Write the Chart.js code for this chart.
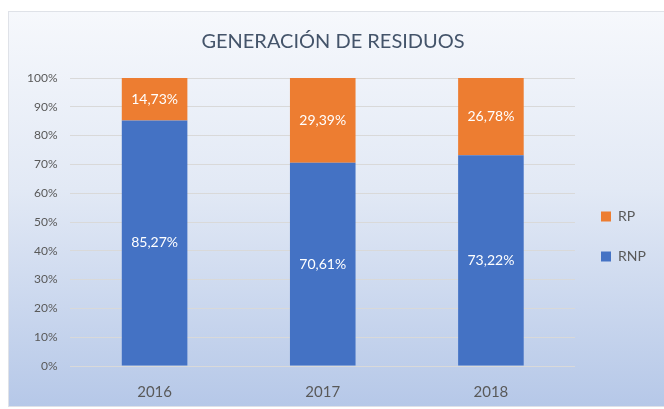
<!DOCTYPE html>
<html>
<head>
<meta charset="utf-8">
<script src="https://cdn.jsdelivr.net/npm/chart.js@4/dist/chart.umd.min.js"></script>
<style>
  html, body { margin: 0; padding: 0; background: #fff; }
  #wrap { width: 664px; height: 409px; position: relative; }
</style>
</head>
<body>
<div id="wrap"><canvas id="c"></canvas></div>
<script>
// Generación de residuos — barras 100% apiladas (RNP abajo, RP arriba)
const years = ['2016', '2017', '2018'];
const rnp = [85.27, 70.61, 73.22];
const rp = [14.73, 29.39, 26.78];
const yTicks = [0, 10, 20, 30, 40, 50, 60, 70, 80, 90, 100];

const C = { rnp: '#4472c4', rp: '#ed7d31', text: '#595959', title: '#44546a', grid: '#d9d9d9' };
const FONT = 'Lato, "Open Sans", sans-serif';

const pct = (v) => v.toFixed(2).replace('.', ',') + '%';

// fondo degradado tipo Excel, con borde fino
const bgPlugin = {
    id: 'bg',
    beforeDraw(chart) {
        const { ctx, width, height } = chart;
        ctx.save();
        ctx.fillStyle = '#ffffff';
        ctx.fillRect(0, 0, width, height);
        const g = ctx.createLinearGradient(0, 12, 0, height - 3);
        g.addColorStop(0, '#f6f8fc');
        g.addColorStop(0.45, '#e2e9f5');
        g.addColorStop(1, '#b6c8e8');
        ctx.fillStyle = g;
        ctx.fillRect(8, 12, width - 8, height - 15);
        ctx.strokeStyle = '#dfe2e8';
        ctx.lineWidth = 1;
        ctx.strokeRect(8.5, 11.5, width, height - 14);
        ctx.restore();
    },
};

// etiquetas de valor centradas en cada segmento
const labelPlugin = {
    id: 'vlabels',
    afterDatasetsDraw(chart) {
        const { ctx } = chart;
        ctx.save();
        ctx.font = '14px ' + FONT;
        ctx.fillStyle = '#ffffff';
        ctx.textAlign = 'center';
        ctx.textBaseline = 'middle';
        chart.data.datasets.forEach((ds, i) => {
            chart.getDatasetMeta(i).data.forEach((bar, j) => {
                ctx.fillText(pct(ds.data[j]), bar.x, (bar.y + bar.base) / 2);
            });
        });
        ctx.restore();
    },
};

// leyenda: ancho fijo y bajada al nivel del original
const legendPlugin = {
    id: 'legendTweak',
    beforeInit(chart) {
        const fit = chart.legend.fit;
        chart.legend.fit = function () { fit.call(this); this.width = 77; };
    },
    afterLayout(chart) {
        chart.legend.top += 36;
        chart.legend.bottom += 36;
    },
};

new Chart(document.getElementById('c'), {
    type: 'bar',
    data: {
        labels: years,
        datasets: [
            { label: 'RNP', data: rnp, backgroundColor: C.rnp },
            { label: 'RP', data: rp, backgroundColor: C.rp },
        ],
    },
    options: {
        responsive: true, maintainAspectRatio: false, animation: false,
        datasets: { bar: { categoryPercentage: 1, barPercentage: 0.39 } },
        layout: { padding: { top: 0, left: 14, right: 12, bottom: 8 } },
        plugins: {
            title: {
                display: true, text: 'GENERACIÓN DE RESIDUOS', color: C.title,
                font: { family: FONT, size: 20, weight: 'normal' },
                padding: { top: 30, bottom: 24 },
            },
            legend: {
                position: 'right', reverse: true,
                labels: {
                    color: C.text, boxWidth: 10, boxHeight: 10, padding: 26,
                    font: { family: FONT, size: 14 },
                },
            },
            tooltip: { enabled: false },
        },
        scales: {
            x: {
                stacked: true,
                grid: { display: false, drawTicks: false },
                border: { display: false },
                ticks: { color: C.text, padding: 17, font: { family: FONT, size: 15 } },
                afterFit: (s) => { s.height = 35; },
            },
            y: {
                stacked: true, min: 0, max: 100,
                afterBuildTicks: (s) => { s.ticks = yTicks.map((v) => ({ value: v })); },
                grid: { color: C.grid, drawTicks: false },
                border: { display: false },
                ticks: { color: C.text, padding: 13, font: { family: FONT, size: 12 }, callback: (v) => v + '%' },
            },
        },
    },
    plugins: [bgPlugin, labelPlugin, legendPlugin],
});
</script>
</body>
</html>
